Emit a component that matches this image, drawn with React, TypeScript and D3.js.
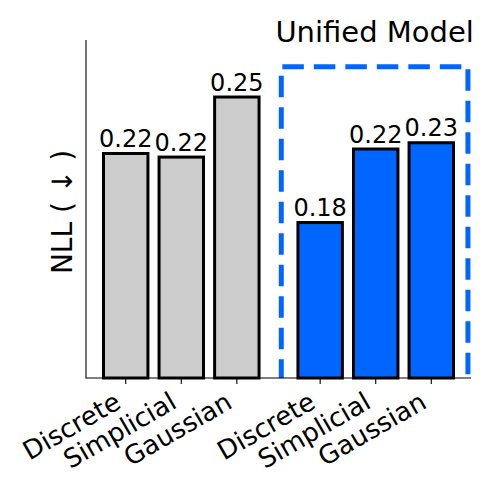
import React from "react";
import * as d3 from "d3";

const categories = ["Discrete", "Simplicial", "Gaussian"];
const baselineValues = [0.2195, 0.2175, 0.251];
const unifiedValues = [0.181, 0.222, 0.2255];
const groupTitle = "Unified Model";
const yLabel = "NLL ( ↓ )";

const W = 498;
const H = 498;
const FONT = "DejaVu Sans, sans-serif";
const GRAY = "#cccccc";
const BLUE = "#0066ff";

export default function App() {
  const x = d3.scaleLinear().domain([-0.715, 6.215]).range([86, 471]);
  const y = d3.scaleLinear().domain([0.0943, 0.2828]).range([378, 40]);
  const bw = x(0.8) - x(0);

  const bars = [
    ...baselineValues.map((v, i) => ({ pos: i, v, fill: GRAY, label: categories[i] })),
    ...unifiedValues.map((v, i) => ({ pos: 3.5 + i, v, fill: BLUE, label: categories[i] })),
  ];

  const rx0 = x(2.8);
  const rx1 = x(6.16);
  const ryTop = y(0.2679);
  const yBase = y(0.0943);

  return (
    <svg width={W} height={H} style={{ position: "absolute", left: 0, top: 0, background: "#fff" }} fontFamily={FONT}>
      {bars.map((b, i) => (
        <rect
          key={"b" + i}
          x={x(b.pos) - bw / 2}
          y={y(b.v)}
          width={bw}
          height={yBase - y(b.v)}
          fill={b.fill}
          stroke="#000"
          strokeWidth={3}
        />
      ))}
      {bars.map((b, i) => (
        <text key={"v" + i} x={x(b.pos)} y={y(b.v) - 6.5} textAnchor="middle" fontSize={24} fill="#000">
          {d3.format(".2f")(b.v)}
        </text>
      ))}
      {/* dashed box */}
      <path
        d={`M${rx1},${ryTop} L${rx0},${ryTop} L${rx0},${yBase}`}
        fill="none"
        stroke={BLUE}
        strokeWidth={5}
        strokeDasharray="21.5 10"
        strokeDashoffset={24.9}
      />
      <path
        d={`M${rx1},${ryTop} L${rx1},${yBase}`}
        fill="none"
        stroke={BLUE}
        strokeWidth={5}
        strokeDasharray="21.5 10"
        strokeDashoffset={28.9}
      />
      <text x={(rx0 + rx1) / 2} y={42.3} textAnchor="middle" fontSize={29} fill="#000">
        {groupTitle}
      </text>
      {/* axes */}
      <line x1={86} x2={86} y1={40} y2={yBase + 0.5} stroke="#000" strokeWidth={1.1} />
      <line x1={86} x2={471} y1={yBase} y2={yBase} stroke="#000" strokeWidth={1.1} />
      {bars.map((b, i) => (
        <g key={"t" + i}>
          <line x1={x(b.pos)} x2={x(b.pos)} y1={yBase} y2={yBase + 6} stroke="#000" strokeWidth={1.1} />
          <text
            transform={`translate(${x(b.pos) - 3.1},${407}) rotate(-30)`}
            textAnchor="end"
            fontSize={26}
            fill="#000"
          >
            {b.label}
          </text>
        </g>
      ))}
      <text transform={`translate(72,212) rotate(-90)`} textAnchor="middle" fontSize={28} fill="#000">
        {yLabel}
      </text>
    </svg>
  );
}
